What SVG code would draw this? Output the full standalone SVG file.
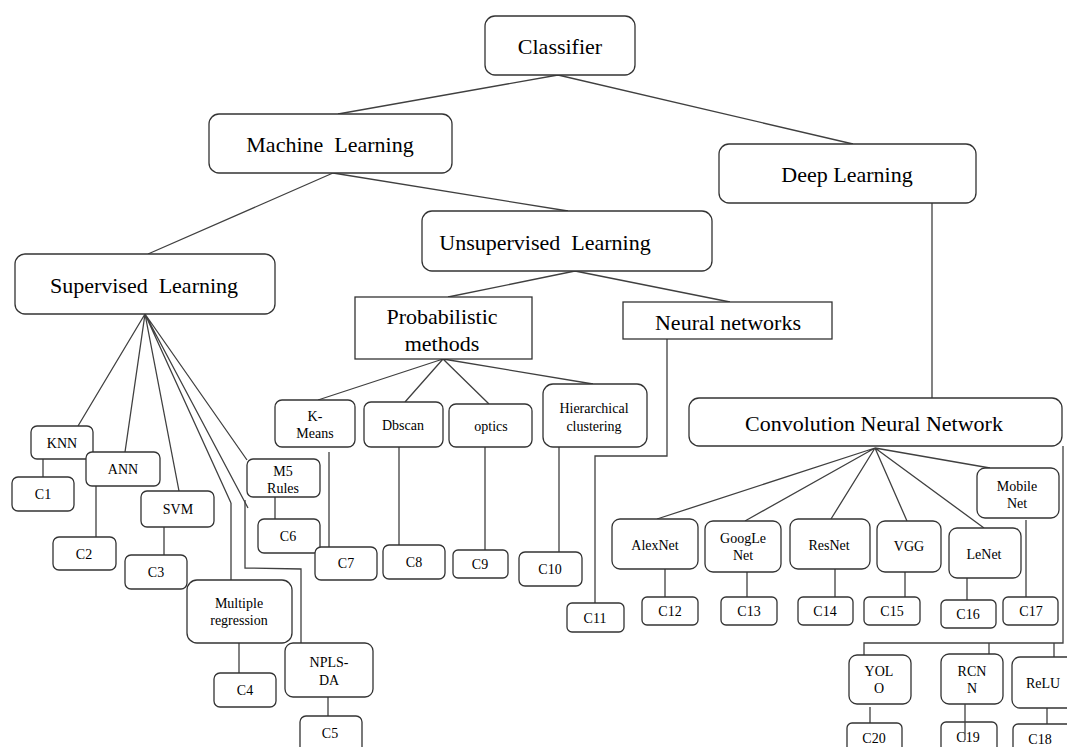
<svg xmlns="http://www.w3.org/2000/svg" width="1067" height="747" viewBox="0 0 1067 747">
<style>
  .b { fill: #fff; stroke: #333; stroke-width: 1.3; }
  .l { fill: none; stroke: #404040; stroke-width: 1.3; }
  .t { font-family: "Liberation Serif", "Times New Roman", serif; fill: #000; text-anchor: middle; dominant-baseline: central; }
  .big { font-size: 22px; }
  .sm { font-size: 14px; }
</style>
<rect width="1067" height="747" fill="#fff"/>
<g id="connectors">
  <path class="l" d="M558,75 L338,114 M558,75 L853,144"/>
  <path class="l" d="M333,173 L148,254 M333,173 L568,211"/>
  <path class="l" d="M575,271 L448,297 M575,271 L730,302"/>
  <path class="l" d="M932,203 L932,398"/>
  <path class="l" d="M443,359 L318,400 M443,359 L405,402 M443,359 L489,404 M443,359 L593,384"/>
  <path class="l" d="M329,452 L329,547 M399,445 L399,545 M485,447 L485,550 M559,447 L559,552"/>
  <path class="l" d="M667,339 L667,456 L595,456 L595,603"/>
  <path class="l" d="M145,314 L78,426 M145,314 L125,452 M145,314 L179,491 M145,314 L231,503 M145,314 L248,508 M145,314 L247,460"/>
  <path class="l" d="M43,459 L43,477 M96,486 L96,537 M164,527 L164,555 M275,493 L275,519"/>
  <path class="l" d="M231,503 L231,580 M239,643 L239,673"/>
  <path class="l" d="M245,500 L245,568 L301,569 L301,643 M328,697 L328,716"/>
  <path class="l" d="M875,448 L657,519 M875,448 L745,521 M875,448 L831,519 M875,448 L907,521 M875,448 L984,528 M875,448 L990,468"/>
  <path class="l" d="M665,567 L665,597 M747,567 L747,597 M835,569 L835,597 M905,569 L905,597 M967,576 L967,600 M1026,520 L1026,597"/>
  <path class="l" d="M1063,446 L1063,643 L864,643 L864,655 M989,643 L989,654 M1054,643 L1054,657"/>
  <path class="l" d="M870,707 L870,723 M1047,708 L1047,724"/>
</g>
<g id="n-classifier"><rect class="b" x="485" y="16" width="150" height="59" rx="10"/><text class="t big" x="560" y="46">Classifier</text></g>
<g id="n-ml"><rect class="b" x="209" y="114" width="243" height="59" rx="10"/><text class="t big" x="330" y="144" xml:space="preserve">Machine  Learning</text></g>
<g id="n-dl"><rect class="b" x="719" y="144" width="257" height="59" rx="10"/><text class="t big" x="847" y="174">Deep Learning</text></g>
<g id="n-unsup"><rect class="b" x="422" y="211" width="290" height="60" rx="10"/><text class="t big" x="545" y="242" xml:space="preserve">Unsupervised  Learning</text></g>
<g id="n-sup"><rect class="b" x="15" y="254" width="260" height="60" rx="10"/><text class="t big" x="144" y="285" xml:space="preserve">Supervised  Learning</text></g>
<g id="n-prob"><rect class="b" x="355" y="297" width="177" height="62"/><text class="t big" x="442" y="316">Probabilistic</text><text class="t big" x="442" y="343">methods</text></g>
<g id="n-nn"><rect class="b" x="623" y="302" width="209" height="37"/><text class="t big" x="728" y="322">Neural networks</text></g>
<g id="n-cnn"><rect class="b" x="689" y="398" width="373" height="48" rx="10"/><text class="t big" x="874" y="423">Convolution Neural Network</text></g>

<g id="n-knn"><rect class="b" x="31" y="426" width="62" height="33" rx="6"/><text class="t sm" x="62" y="443">KNN</text></g>
<g id="n-c1"><rect class="b" x="12" y="477" width="62" height="34" rx="6"/><text class="t sm" x="43" y="494">C1</text></g>
<g id="n-ann"><rect class="b" x="86" y="452" width="74" height="34" rx="6"/><text class="t sm" x="123" y="469">ANN</text></g>
<g id="n-c2"><rect class="b" x="53" y="537" width="63" height="33" rx="6"/><text class="t sm" x="84" y="554">C2</text></g>
<g id="n-svm"><rect class="b" x="141" y="491" width="73" height="36" rx="6"/><text class="t sm" x="178" y="509">SVM</text></g>
<g id="n-c3"><rect class="b" x="125" y="555" width="62" height="34" rx="6"/><text class="t sm" x="156" y="572">C3</text></g>
<g id="n-mr"><rect class="b" x="187" y="580" width="105" height="63" rx="10"/><text class="t sm" x="239" y="603">Multiple</text><text class="t sm" x="239" y="620">regression</text></g>
<g id="n-c4"><rect class="b" x="214" y="673" width="62" height="34" rx="6"/><text class="t sm" x="245" y="690">C4</text></g>
<g id="n-npls"><rect class="b" x="285" y="643" width="88" height="54" rx="8"/><text class="t sm" x="329" y="662">NPLS-</text><text class="t sm" x="329" y="680">DA</text></g>
<g id="n-c5"><rect class="b" x="300" y="716" width="62" height="40" rx="6"/><text class="t sm" x="330" y="733">C5</text></g>
<g id="n-m5"><rect class="b" x="247" y="459" width="73" height="38" rx="6"/><text class="t sm" x="283" y="471">M5</text><text class="t sm" x="283" y="488">Rules</text></g>
<g id="n-c6"><rect class="b" x="258" y="519" width="62" height="34" rx="6"/><text class="t sm" x="288" y="536">C6</text></g>

<g id="n-kmeans"><rect class="b" x="275" y="400" width="80" height="47" rx="7"/><text class="t sm" x="315" y="416">K-</text><text class="t sm" x="315" y="433">Means</text></g>
<g id="n-c7"><rect class="b" x="315" y="547" width="62" height="33" rx="6"/><text class="t sm" x="346" y="563">C7</text></g>
<g id="n-dbscan"><rect class="b" x="364" y="402" width="79" height="45" rx="7"/><text class="t sm" x="403" y="425">Dbscan</text></g>
<g id="n-c8"><rect class="b" x="383" y="545" width="62" height="34" rx="6"/><text class="t sm" x="414" y="562">C8</text></g>
<g id="n-optics"><rect class="b" x="449" y="404" width="83" height="43" rx="7"/><text class="t sm" x="491" y="426">optics</text></g>
<g id="n-c9"><rect class="b" x="453" y="550" width="55" height="28" rx="5"/><text class="t sm" x="480" y="564">C9</text></g>
<g id="n-hier"><rect class="b" x="543" y="384" width="104" height="63" rx="10"/><text class="t sm" x="594" y="408">Hierarchical</text><text class="t sm" x="594" y="426">clustering</text></g>
<g id="n-c10"><rect class="b" x="519" y="552" width="63" height="34" rx="6"/><text class="t sm" x="550" y="569">C10</text></g>
<g id="n-c11"><rect class="b" x="567" y="603" width="57" height="29" rx="5"/><text class="t sm" x="595" y="618">C11</text></g>

<g id="n-alexnet"><rect class="b" x="612" y="519" width="86" height="50" rx="8"/><text class="t sm" x="655" y="545">AlexNet</text></g>
<g id="n-c12"><rect class="b" x="642" y="597" width="56" height="28" rx="5"/><text class="t sm" x="670" y="611">C12</text></g>
<g id="n-googlenet"><rect class="b" x="705" y="521" width="76" height="51" rx="8"/><text class="t sm" x="743" y="538">GoogLe</text><text class="t sm" x="743" y="555">Net</text></g>
<g id="n-c13"><rect class="b" x="721" y="597" width="56" height="28" rx="5"/><text class="t sm" x="749" y="611">C13</text></g>
<g id="n-resnet"><rect class="b" x="790" y="519" width="80" height="50" rx="8"/><text class="t sm" x="829" y="545">ResNet</text></g>
<g id="n-c14"><rect class="b" x="798" y="597" width="55" height="28" rx="5"/><text class="t sm" x="825" y="611">C14</text></g>
<g id="n-vgg"><rect class="b" x="877" y="521" width="64" height="51" rx="8"/><text class="t sm" x="909" y="546">VGG</text></g>
<g id="n-c15"><rect class="b" x="864" y="597" width="56" height="28" rx="5"/><text class="t sm" x="892" y="611">C15</text></g>
<g id="n-lenet"><rect class="b" x="949" y="528" width="72" height="50" rx="8"/><text class="t sm" x="984" y="554">LeNet</text></g>
<g id="n-c16"><rect class="b" x="941" y="600" width="55" height="28" rx="5"/><text class="t sm" x="968" y="614">C16</text></g>
<g id="n-mobilenet"><rect class="b" x="977" y="468" width="82" height="50" rx="8"/><text class="t sm" x="1017" y="486">Mobile</text><text class="t sm" x="1017" y="503">Net</text></g>
<g id="n-c17"><rect class="b" x="1003" y="597" width="55" height="28" rx="5"/><text class="t sm" x="1031" y="611">C17</text></g>
<g id="n-yolo"><rect class="b" x="849" y="655" width="62" height="49" rx="8"/><text class="t sm" x="879" y="671">YOL</text><text class="t sm" x="879" y="688">O</text></g>
<g id="n-c20"><rect class="b" x="847" y="723" width="55" height="35" rx="5"/><text class="t sm" x="874" y="738">C20</text></g>
<g id="n-rcnn"><rect class="b" x="941" y="654" width="62" height="50" rx="8"/><text class="t sm" x="972" y="671">RCN</text><text class="t sm" x="972" y="688">N</text></g>
<g id="n-c19"><rect class="b" x="941" y="722" width="56" height="35" rx="5"/><text class="t sm" x="968" y="737">C19</text></g>
<path class="l" d="M965,704 L965,740"/>
<g id="n-relu"><rect class="b" x="1012" y="657" width="70" height="51" rx="8"/><text class="t sm" x="1043" y="683">ReLU</text></g>
<g id="n-c18"><rect class="b" x="1013" y="724" width="70" height="35" rx="5"/><text class="t sm" x="1040" y="739">C18</text></g>
</svg>
